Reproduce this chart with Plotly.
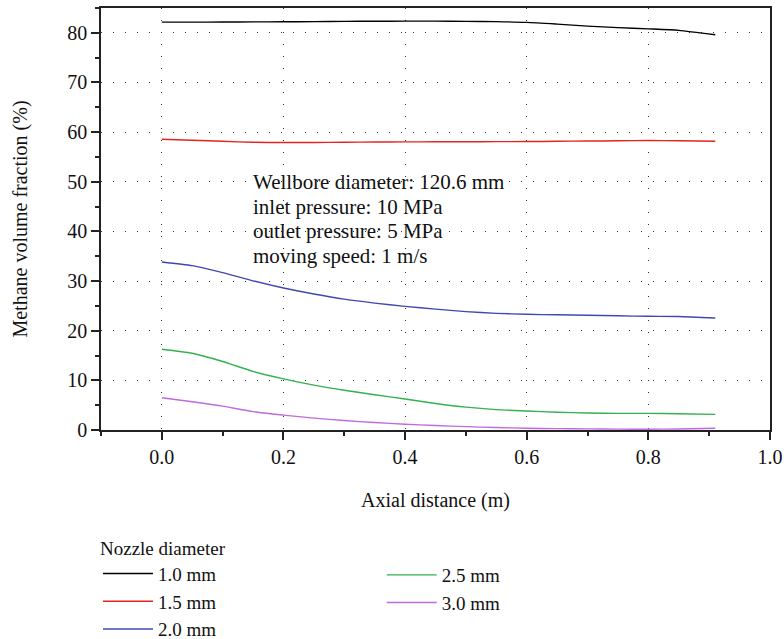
import plotly.graph_objects as go

# Axial positions along the wellbore (m)
axial_distance = [0.0, 0.05, 0.1, 0.15, 0.2, 0.25, 0.3, 0.35, 0.4, 0.45,
                  0.5, 0.55, 0.6, 0.65, 0.7, 0.75, 0.8, 0.85, 0.91]

# Methane volume fraction (%) for each nozzle diameter
nozzle_labels = ["1.0 mm", "1.5 mm", "2.0 mm", "2.5 mm", "3.0 mm"]
frac_1_0 = [82.15, 82.15, 82.17, 82.2, 82.22, 82.25, 82.3, 82.33, 82.35, 82.35,
            82.3, 82.25, 82.1, 81.75, 81.35, 81.05, 80.8, 80.5, 79.6]
frac_1_5 = [58.55, 58.35, 58.15, 57.95, 57.9, 57.92, 57.95, 58.0, 58.03, 58.05,
            58.07, 58.08, 58.1, 58.15, 58.2, 58.25, 58.3, 58.25, 58.15]
frac_2_0 = [33.85, 33.1, 31.7, 30.05, 28.6, 27.4, 26.35, 25.55, 24.9, 24.35,
            23.85, 23.5, 23.3, 23.2, 23.1, 23.0, 22.9, 22.87, 22.57]
frac_2_5 = [16.26, 15.45, 13.8, 11.8, 10.3, 9.05, 8.0, 7.1, 6.25, 5.35,
            4.6, 4.1, 3.83, 3.58, 3.42, 3.35, 3.35, 3.27, 3.15]
frac_3_0 = [6.5, 5.7, 4.8, 3.7, 3.0, 2.4, 1.9, 1.5, 1.17, 0.9,
            0.67, 0.5, 0.35, 0.28, 0.22, 0.17, 0.15, 0.2, 0.35]

series = [frac_1_0, frac_1_5, frac_2_0, frac_2_5, frac_3_0]
colors = ["#000000", "#e3241f", "#3f49b0", "#35b050", "#bf6ade"]
legend_ids = ["legend", "legend", "legend", "legend2", "legend2"]

conditions = [
    "Wellbore diameter: 120.6 mm",
    "inlet pressure: 10 MPa",
    "outlet pressure: 5 MPa",
    "moving speed: 1 m/s",
]
condition_y = [50, 45, 40, 35]

FONT = "Liberation Serif"
FS = 20
INK = "#111111"

fig = go.Figure()
for name, vals, col, lg in zip(nozzle_labels, series, colors, legend_ids):
    fig.add_trace(go.Scatter(
        x=axial_distance, y=vals, mode="lines", name=name,
        line=dict(color=col, width=1.4, shape="spline", smoothing=0.6),
        legend=lg,
    ))

for txt, yy in zip(conditions, condition_y):
    fig.add_annotation(
        x=0.147, y=yy, xref="x", yref="y", text=txt, showarrow=False,
        xanchor="left", yanchor="middle",
        font=dict(family=FONT, size=21, color=INK),
    )

axis_common = dict(
    showline=True, linecolor="#222222", linewidth=1.5, mirror=True,
    ticks="outside", ticklen=8, tickwidth=1.5, tickcolor="#222222",
    showgrid=True, gridcolor="#333333", gridwidth=1, griddash="1px,11px",
    zeroline=False, automargin=False,
    tickfont=dict(family=FONT, size=FS, color=INK),
)

fig.update_xaxes(
    range=[-0.1, 1.0], tickvals=[0, 0.2, 0.4, 0.6, 0.8, 1.0],
    ticktext=["0.0", "0.2", "0.4", "0.6", "0.8", "1.0"],
    minor=dict(dtick=0.1, tick0=-0.1, ticks="outside", ticklen=4,
               tickwidth=1.5, tickcolor="#222222", showgrid=False),
    title=dict(text="Axial distance (m)", font=dict(family=FONT, size=FS, color=INK),
               standoff=26),
    **axis_common,
)
fig.update_yaxes(
    range=[0, 85], tickvals=[0, 10, 20, 30, 40, 50, 60, 70, 80],
    minor=dict(dtick=5, tick0=0, ticks="outside", ticklen=4,
               tickwidth=1.5, tickcolor="#222222", showgrid=False),
    title=dict(text="Methane volume fraction (%)", font=dict(family=FONT, size=FS, color=INK),
               standoff=34),
    **axis_common,
)

legend_font = dict(family=FONT, size=19, color=INK)
fig.update_layout(
    width=784, height=639,
    margin=dict(l=101, r=14, t=8, b=209, autoexpand=False),
    plot_bgcolor="white", paper_bgcolor="white",
    font=dict(family=FONT, size=FS, color=INK),
    showlegend=True,
    legend=dict(
        title=dict(text="Nozzle diameter", font=legend_font),
        x=-0.0045, y=-0.237, xanchor="left", yanchor="top",
        orientation="v", font=legend_font, tracegroupgap=0,
        itemwidth=50, bgcolor="rgba(0,0,0,0)",
    ),
    legend2=dict(
        x=0.4197, y=-0.2986, xanchor="left", yanchor="top",
        orientation="v", font=legend_font, tracegroupgap=0,
        itemwidth=50, bgcolor="rgba(0,0,0,0)",
    ),
)

fig.write_html("out.html")
